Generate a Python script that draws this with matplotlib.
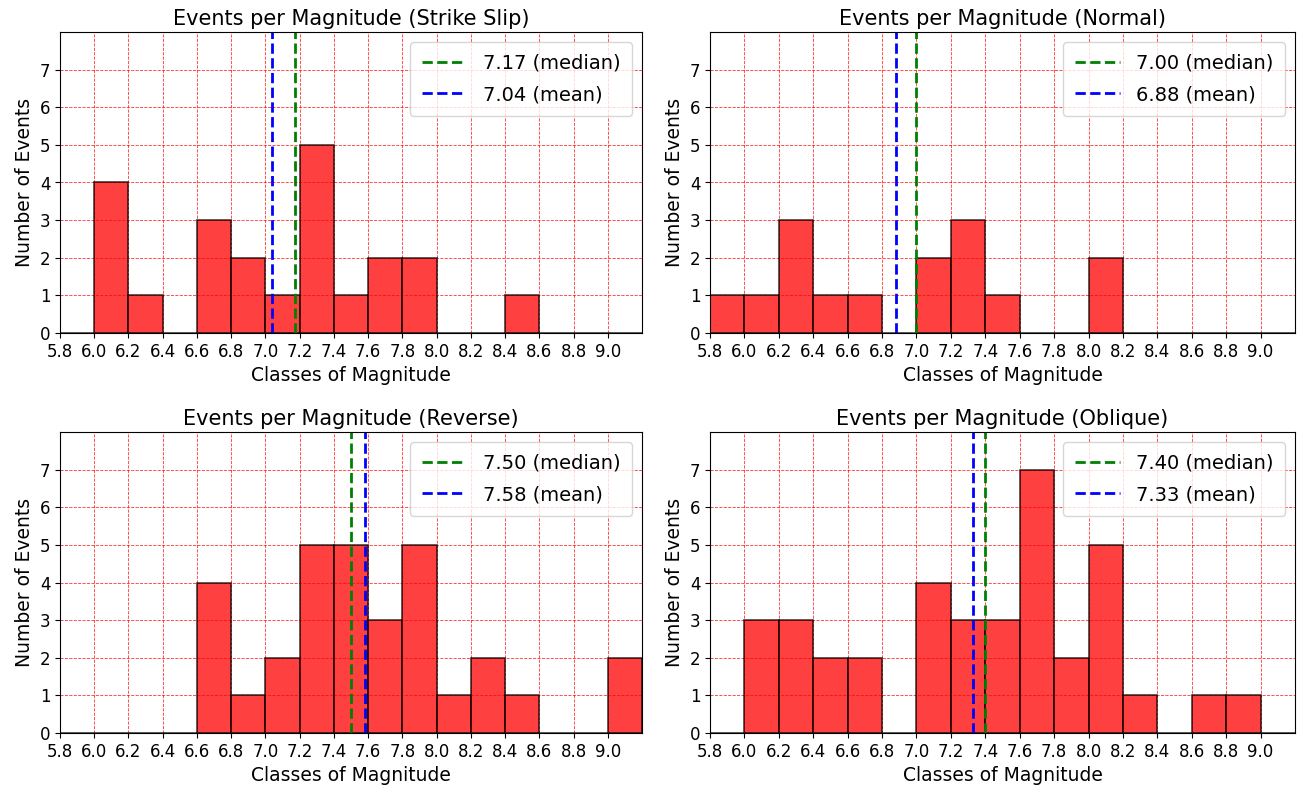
import matplotlib
matplotlib.use("Agg")
import matplotlib.pyplot as plt
import numpy as np

edges = [round(5.8 + 0.2 * i, 1) for i in range(18)]
tick_vals = [round(5.8 + 0.2 * i, 1) for i in range(17)]

titles = ["Strike Slip", "Normal", "Reverse", "Oblique"]
counts_strike = [0, 4, 1, 0, 3, 2, 1, 5, 1, 2, 2, 0, 0, 1, 0, 0, 0]
counts_normal = [1, 1, 3, 1, 1, 0, 2, 3, 1, 0, 0, 2, 0, 0, 0, 0, 0]
counts_reverse = [0, 0, 0, 0, 4, 1, 2, 5, 5, 3, 5, 1, 2, 1, 0, 0, 2]
counts_oblique = [0, 3, 3, 2, 2, 0, 4, 3, 3, 7, 2, 5, 1, 0, 1, 1, 0]
medians = [7.17, 7.00, 7.50, 7.40]
means = [7.04, 6.88, 7.58, 7.33]

all_counts = [counts_strike, counts_normal, counts_reverse, counts_oblique]

W, H = 1303, 792
fig = plt.figure(figsize=(W / 100, H / 100), dpi=100)

boxes = [
    (60, 32, 642, 333),
    (710, 32, 1295, 333),
    (60, 432, 642, 733),
    (710, 432, 1295, 733),
]

for i, (x0, y0, x1, y1) in enumerate(boxes):
    ax = fig.add_axes([x0 / W, 1 - y1 / H, (x1 - x0) / W, (y1 - y0) / H])
    ax.set_axisbelow(True)
    ax.grid(True, color="red", linestyle="--", linewidth=0.6, alpha=0.8)
    ax.hist(edges[:-1], bins=edges, weights=all_counts[i], color="red",
            alpha=0.75, edgecolor="black", linewidth=1.2)
    ax.axvline(medians[i], color="green", linestyle="--", linewidth=2,
               label=f"{medians[i]:.2f} (median)")
    ax.axvline(means[i], color="blue", linestyle="--", linewidth=2,
               label=f"{means[i]:.2f} (mean)")
    ax.set_xlim(5.8, 9.2)
    ax.set_ylim(0, 8)
    ax.set_xticks(tick_vals)
    ax.set_xticklabels([f"{v:.1f}" for v in tick_vals])
    ax.set_yticks(range(8))
    ax.tick_params(labelsize=12)
    ax.set_title(f"Events per Magnitude ({titles[i]})", fontsize=15, pad=5)
    ax.set_xlabel("Classes of Magnitude", fontsize=13.5)
    ax.set_ylabel("Number of Events", fontsize=13.5)
    ax.legend(loc="upper right", fontsize=14, labelspacing=0.65,
              borderpad=0.6, handlelength=2.3, handletextpad=0.85)

fig.savefig("out.png", dpi=100)
